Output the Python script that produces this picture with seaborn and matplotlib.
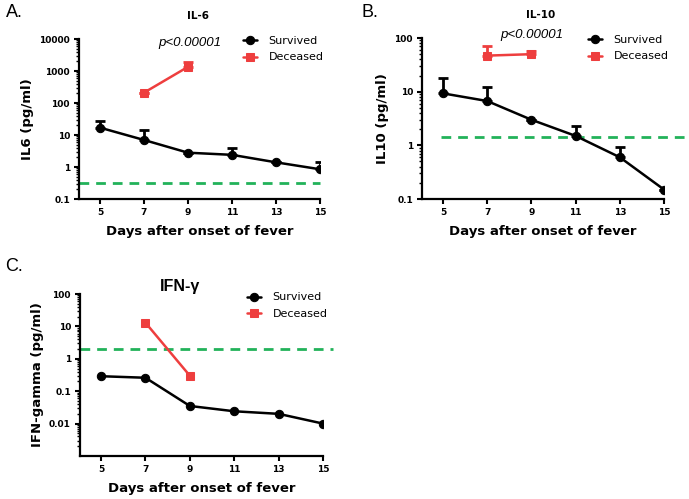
import numpy as np
import pandas as pd
import matplotlib
matplotlib.use('Agg')
import matplotlib.pyplot as plt
import seaborn as sns
from matplotlib.ticker import FixedLocator, LogLocator, NullFormatter

sns.set_style('ticks', {'axes.edgecolor': 'black', 'text.color': 'black',
                        'axes.labelcolor': 'black', 'xtick.color': 'black',
                        'ytick.color': 'black'})
plt.rcParams['font.family'] = ['DejaVu Sans']

# data
days = [5, 7, 9, 11, 13, 15]
dead_days = [7, 9]

il6_surv = [17, 7, 2.8, 2.4, 1.4, 0.85]
il6_surv_hi = [28, 14, 2.8, 4.0, 1.4, 1.4]
il6_dead = [210, 1350]
il6_dead_hi = [210, 1850]
il6_cut = 0.31

il10_surv = [9.3, 6.7, 3.0, 1.5, 0.6, 0.15]
il10_surv_hi = [18, 12, 3.0, 2.3, 0.93, 0.15]
il10_dead = [47, 50]
il10_dead_hi = [70, 57]
il10_cut = 1.45

ifn_surv = [0.29, 0.26, 0.035, 0.024, 0.020, 0.010]
ifn_dead = [13, 0.30]
ifn_cut = 2.0

RED = '#EE3E3E'
GREEN = '#22B25A'
ARIAL = 'Liberation Sans'


def panel(ax, surv, dead, surv_hi, dead_hi, cut, cut_span, ylim, yticks, ylabel):
    ds = pd.DataFrame({'day': days, 'val': surv})
    dd = pd.DataFrame({'day': dead_days, 'val': dead})
    ax.hlines(cut, cut_span[0], cut_span[1], colors=GREEN, linestyles=(0, (3.5, 2.5)),
              linewidth=2, clip_on=False, zorder=1)
    if surv_hi is not None:
        up = np.array(surv_hi) - np.array(surv)
        ax.errorbar(days, surv, yerr=[np.zeros(len(up)), up], fmt='none', ecolor='black',
                    elinewidth=2, capsize=3.5, capthick=2, zorder=2)
    if dead_hi is not None:
        up = np.array(dead_hi) - np.array(dead)
        ax.errorbar(dead_days, dead, yerr=[np.zeros(len(up)), up], fmt='none', ecolor=RED,
                    elinewidth=2, capsize=3.5, capthick=2, zorder=2)
    sns.lineplot(data=ds, x='day', y='val', ax=ax, color='black', marker='o', markersize=6,
                 markeredgecolor='black', linewidth=1.8, label='Survived', zorder=3)
    sns.lineplot(data=dd, x='day', y='val', ax=ax, color=RED, marker='s', markersize=5.5,
                 markeredgecolor=RED, linewidth=1.8, label='Deceased', zorder=3)
    ax.set_yscale('log')
    ax.set_ylim(*ylim)
    ax.yaxis.set_major_locator(FixedLocator(yticks))
    ax.set_yticklabels([('%g' % t) for t in yticks])
    ax.yaxis.set_minor_locator(LogLocator(base=10, subs=np.arange(2, 10), numticks=20))
    ax.yaxis.set_minor_formatter(NullFormatter())
    ax.set_xlim(4.05, 15)
    ax.set_xticks(days)
    ax.set_xlabel('Days after onset of fever', fontsize=9.5, fontweight='bold', labelpad=6)
    ax.set_ylabel(ylabel, fontsize=9.5, fontweight='bold', labelpad=4)
    for lab in ax.get_xticklabels() + ax.get_yticklabels():
        lab.set_fontweight('bold')
        lab.set_fontsize(6.5)
    sns.despine(ax=ax)
    for s in ['left', 'bottom']:
        ax.spines[s].set_linewidth(1.6)
    ax.tick_params(axis='both', which='major', length=3.5, width=1.5, pad=3)
    ax.tick_params(axis='y', which='minor', length=2, width=1)
    ax.tick_params(axis='x', which='minor', length=0)


fig = plt.figure(figsize=(6.89, 4.99), dpi=100)
axA = fig.add_axes([0.1147, 0.6012, 0.3498, 0.3206])
axB = fig.add_axes([0.6125, 0.6012, 0.3512, 0.3226])
axC = fig.add_axes([0.1161, 0.0862, 0.3527, 0.3246])

panel(axA, il6_surv, il6_dead, il6_surv_hi, il6_dead_hi, il6_cut, (4.05, 15),
      (0.1, 10000), [0.1, 1, 10, 100, 1000, 10000], 'IL6 (pg/ml)')
panel(axB, il10_surv, il10_dead, il10_surv_hi, il10_dead_hi, il10_cut, (4.9, 16),
      (0.1, 100), [0.1, 1, 10, 100], 'IL10 (pg/ml)')
panel(axC, ifn_surv, ifn_dead, None, None, ifn_cut, (4.05, 15.45),
      (0.001, 100), [0.01, 0.1, 1, 10, 100], 'IFN-gamma (pg/ml)')

leg_pos = {axA: (0.68, 1.02), axB: (0.686, 1.02), axC: (0.687, 1.01)}
for ax, pos in leg_pos.items():
    ax.legend(loc='upper left', bbox_to_anchor=pos, frameon=False, fontsize=8,
              handlelength=1.3, handletextpad=1.0, labelspacing=0.6, borderpad=0,
              borderaxespad=0)

axA.set_title('IL-6', fontsize=7.5, fontweight='bold', x=0.494, y=1.07)
axB.set_title('IL-10', fontsize=7.5, fontweight='bold', x=0.49, y=1.07)
axC.set_title('IFN-γ', fontsize=11.5, fontweight='bold', family=ARIAL, x=0.41, y=1.0, pad=2)

axA.text(0.46, 0.975, 'p<0.00001', transform=axA.transAxes, ha='center', va='center',
         fontsize=9.5, style='italic', family=ARIAL)
axB.text(0.453, 1.02, 'p<0.00001', transform=axB.transAxes, ha='center', va='center',
         fontsize=9.5, style='italic', family=ARIAL)

fig.text(0.008, 0.974, 'A.', fontsize=13, va='center', family=ARIAL)
fig.text(0.525, 0.974, 'B.', fontsize=13, va='center', family=ARIAL)
fig.text(0.008, 0.465, 'C.', fontsize=13, va='center', family=ARIAL)

fig.savefig('out.png', dpi=100)
